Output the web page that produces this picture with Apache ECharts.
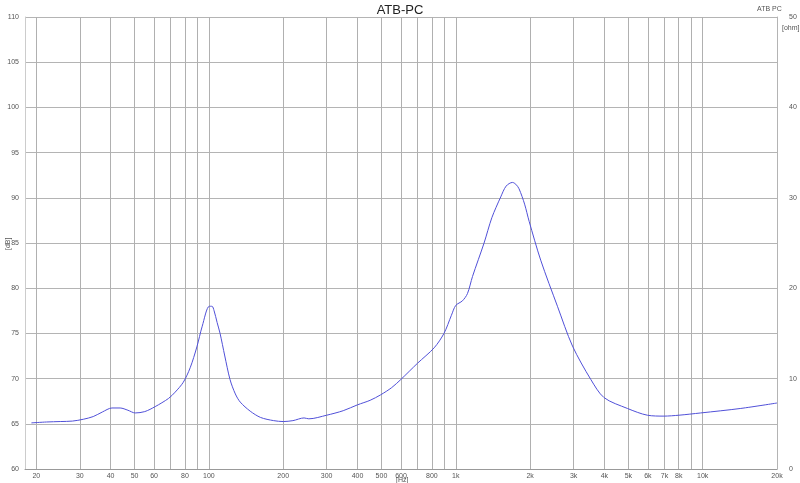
<!DOCTYPE html>
<html>
<head>
<meta charset="utf-8">
<script src="https://cdn.jsdelivr.net/npm/echarts@6/dist/echarts.min.js"></script>
<style>
html,body{margin:0;padding:0;background:#fff;}
#chart{width:800px;height:483px;}
</style>
</head>
<body>
<div id="chart"></div>
<script>
// Frequency (Hz) and impedance (ohm)
const freqs = [19.1,22,25,28,31,34,37,40.5,43.7,47,50.3,55,60.6,68.6,73,78.8,84,89.4,94,100.4,103,105,108,111,116,121.8,128,134,147,162,183,200,219,243,254,300,350,400,450,496,550,599,700,817,896,960,1000,1064,1115,1169,1302,1400,1521,1600,1696,1750,1804,1900,1982,2208,2581,2970,3524,3985,4955,5970,6970,8010,9820,14270,20000];
const ohms = [5.1,5.2,5.25,5.3,5.5,5.8,6.3,6.75,6.75,6.5,6.2,6.35,6.9,7.8,8.5,9.6,11.2,13.5,15.8,18.0,18.0,17.5,16.2,15.0,12.5,9.9,8.3,7.4,6.4,5.7,5.35,5.25,5.35,5.65,5.55,5.95,6.45,7.1,7.6,8.2,9.0,9.9,11.7,13.4,15.0,17.0,18.1,18.6,19.4,21.3,25.0,27.8,30.1,31.3,31.7,31.5,31.0,29.3,27.4,23.1,18.0,13.6,9.9,7.9,6.7,5.95,5.85,5.95,6.2,6.7,7.3];
const gridFreqs = [20,30,40,50,60,70,80,90,100,200,300,400,500,600,700,800,900,1000,2000,3000,4000,5000,6000,7000,8000,9000,10000,20000];
const labelFreqs = [20,30,40,50,60,80,100,200,300,400,500,600,800,1000,2000,3000,4000,5000,6000,7000,8000,10000,20000];
const dbTicks = [60,65,70,75,80,85,90,95,100,105,110];
const ohmTicks = [0,10,20,30,40,50];

const chart = echarts.init(document.getElementById('chart'));
const FF = 'Liberation Sans, Arial, sans-serif';
const lab = {color:'#555', fontSize:7, fontFamily:FF};
chart.setOption({
  animation:false,
  title:{text:'ATB-PC', left:'center', top:-1, textStyle:{fontSize:13, fontWeight:'normal', color:'#222', fontFamily:FF}},
  grid:{left:25, right:23, top:17, bottom:14, containLabel:false},
  xAxis:{type:'log', min:18, max:20000, logBase:10,
    axisLine:{show:true, lineStyle:{color:'#999'}},
    axisTick:{show:false, customValues:gridFreqs},
    splitLine:{show:true, lineStyle:{color:'#b0b0b0', width:1}},
    axisLabel:Object.assign({margin:4, customValues:labelFreqs, formatter:v=> v>=1000 ? (v/1000)+'k' : String(v)}, lab)
  },
  yAxis:[
    {type:'value', min:60, max:110, interval:5,
      axisLine:{show:true, lineStyle:{color:'#ccc'}}, axisTick:{show:false},
      splitLine:{show:true, lineStyle:{color:'#b4b4b4'}},
      axisLabel:Object.assign({margin:6}, lab)},
    {type:'value', min:0, max:50, interval:10, position:'right',
      axisLine:{show:true, lineStyle:{color:'#b4b4b4'}}, axisTick:{show:false},
      splitLine:{show:false},
      axisLabel:Object.assign({margin:12}, lab)}
  ],
  graphic:[
    {type:'text', left:757, top:6, style:{text:'ATB PC', fontSize:7, fill:'#555', fontFamily:FF}},
    {type:'text', left:782, top:25, style:{text:'[ohm]', fontSize:7, fill:'#555', fontFamily:FF}},
    {type:'text', left:396, top:477, style:{text:'[Hz]', fontSize:7, fill:'#555', fontFamily:FF}},
    {type:'text', x:5, y:250, rotation:Math.PI/2, style:{text:'[dB]', fontSize:7, fill:'#555', fontFamily:FF}}
  ],
  series:[{
    type:'line', yAxisIndex:1, showSymbol:false, smooth:0.3,
    lineStyle:{color:'#5050d8', width:1},
    data:freqs.map((f,i)=>[f, ohms[i]])
  }]
});
</script>
</body>
</html>
